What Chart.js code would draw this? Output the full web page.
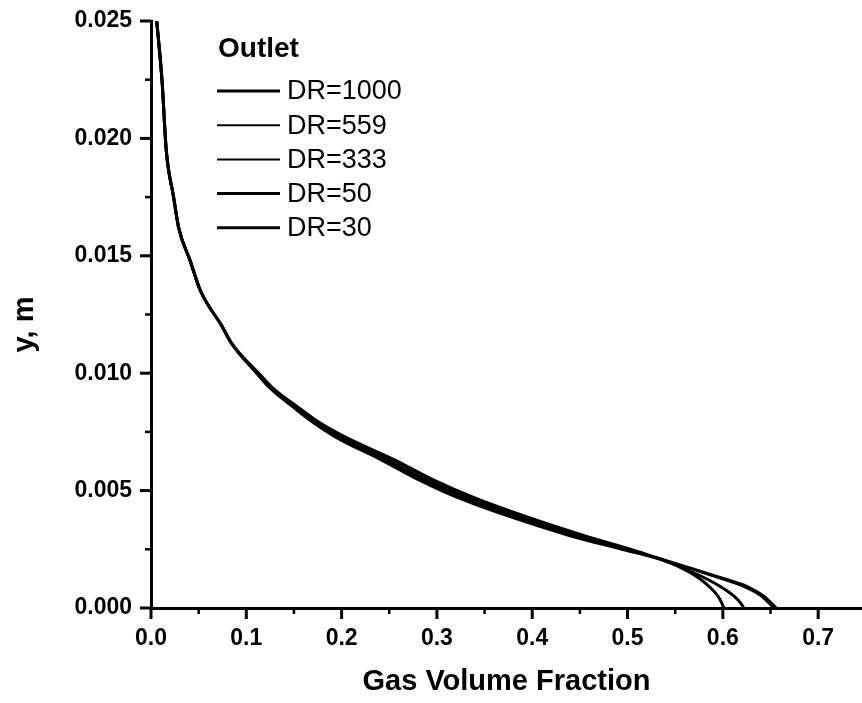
<!DOCTYPE html>
<html>
<head>
<meta charset="utf-8">
<title>Gas Volume Fraction - Outlet</title>
<script src="https://cdn.jsdelivr.net/npm/chart.js@4.4.1/dist/chart.umd.min.js"></script>
<style>
  html, body { margin: 0; padding: 0; background: #fff; }
  canvas { display: block; }
</style>
</head>
<body>
<canvas id="chart" width="862" height="703"></canvas>
<script>
// heights (y, m) shared by every curve
const heights = [0.025, 0.0225, 0.0195, 0.0175, 0.0162, 0.0148, 0.0135, 0.012, 0.0113, 0.010,
  0.0094, 0.0085, 0.008, 0.0073, 0.0063, 0.0055, 0.0047, 0.0039, 0.0031, 0.0025,
  0.0021, 0.0017, 0.0013, 0.0009, 0.0005, 0.0002, 0.0];

// gas volume fraction at each height, one list per density ratio
const dr1000 = [0.006, 0.0115, 0.016, 0.0237, 0.029, 0.041, 0.052, 0.0745, 0.084, 0.113,
  0.127, 0.156, 0.173, 0.203, 0.256, 0.294, 0.339, 0.393, 0.453, 0.503,
  0.534, 0.566, 0.597, 0.626, 0.643, 0.651, 0.656];
const dr559 = [0.006, 0.0115, 0.016, 0.0237, 0.029, 0.041, 0.052, 0.0745, 0.084, 0.112,
  0.126, 0.155, 0.172, 0.201, 0.253, 0.291, 0.336, 0.390, 0.451, 0.502,
  0.534, 0.565, 0.596, 0.625, 0.642, 0.650, 0.655];
const dr333 = [0.006, 0.0115, 0.016, 0.0237, 0.029, 0.041, 0.052, 0.0745, 0.084, 0.112,
  0.126, 0.154, 0.170, 0.198, 0.249, 0.287, 0.332, 0.386, 0.448, 0.500,
  0.534, 0.564, 0.594, 0.622, 0.640, 0.648, 0.653];
const dr50 = [0.006, 0.0115, 0.016, 0.0237, 0.029, 0.041, 0.052, 0.0745, 0.084, 0.111,
  0.125, 0.153, 0.168, 0.195, 0.246, 0.284, 0.328, 0.383, 0.445, 0.498,
  0.533, 0.558, 0.580, 0.598, 0.612, 0.619, 0.622];
const dr30 = [0.006, 0.0115, 0.016, 0.0237, 0.029, 0.041, 0.052, 0.0745, 0.084, 0.111,
  0.124, 0.151, 0.167, 0.193, 0.242, 0.279, 0.322, 0.376, 0.438, 0.494,
  0.532, 0.557, 0.574, 0.586, 0.595, 0.599, 0.601];

const seriesLabels = ['DR=1000', 'DR=559', 'DR=333', 'DR=50', 'DR=30'];
const seriesValues = [dr1000, dr559, dr333, dr50, dr30];
const seriesWidths = [3, 2, 2, 3, 3];

const xTicks = [0, 0.1, 0.2, 0.3, 0.4, 0.5, 0.6, 0.7];
const xMinorTicks = [0.05, 0.15, 0.25, 0.35, 0.45, 0.55, 0.65];
const yTicks = [0, 0.005, 0.010, 0.015, 0.020, 0.025];
const yMinorTicks = [0.0025, 0.0075, 0.0125, 0.0175, 0.0225];

const FONT = "'Liberation Sans', Arial, Helvetica, sans-serif";

const datasets = seriesLabels.map((label, i) => ({
  label: label,
  data: seriesValues[i].map((x, j) => ({ x: x, y: heights[j] })),
  borderColor: '#000',
  backgroundColor: '#000',
  borderWidth: seriesWidths[i],
  showLine: true,
  pointRadius: 0,
  cubicInterpolationMode: 'monotone',
  fill: false
}));

// tick marks (major + minor), drawn outward from the axes
const tickMarks = {
  id: 'tickMarks',
  afterDraw(chart) {
    const ctx = chart.ctx;
    const xs = chart.scales.x, ys = chart.scales.y;
    const area = chart.chartArea;
    ctx.save();
    ctx.strokeStyle = '#000';
    const mark = (vals, len, w, horiz) => {
      ctx.lineWidth = w;
      vals.forEach(v => {
        ctx.beginPath();
        if (horiz) {
          const px = xs.getPixelForValue(v);
          ctx.moveTo(px, area.bottom);
          ctx.lineTo(px, area.bottom + len);
        } else {
          const py = ys.getPixelForValue(v);
          ctx.moveTo(area.left, py);
          ctx.lineTo(area.left - len, py);
        }
        ctx.stroke();
      });
    };
    mark(xTicks, 11, 3, true);
    mark(xMinorTicks, 6, 2.5, true);
    mark(yTicks, 11, 3, false);
    mark(yMinorTicks, 6, 2.5, false);
    ctx.restore();
  }
};

// legend block inside the plot, with its "Outlet" heading, plus the y title
const outletLegend = {
  id: 'outletLegend',
  afterDraw(chart) {
    const ctx = chart.ctx;
    const area = chart.chartArea;
    const left = area.left + 66;
    ctx.save();
    ctx.fillStyle = '#000';
    ctx.textAlign = 'left';
    ctx.textBaseline = 'alphabetic';
    ctx.font = 'bold 28px ' + FONT;
    ctx.fillText('Outlet', left + 1, area.top + 36);
    ctx.font = '27px ' + FONT;
    ctx.textBaseline = 'middle';
    chart.data.datasets.forEach((ds, i) => {
      const y = area.top + 70 + i * 34.2;
      ctx.strokeStyle = ds.borderColor;
      ctx.lineWidth = ds.borderWidth;
      ctx.beginPath();
      ctx.moveTo(left, y);
      ctx.lineTo(left + 63, y);
      ctx.stroke();
      ctx.fillText(ds.label, left + 70, y + 1);
    });

    // y axis title, a little below the plot's middle as in the original
    ctx.translate(area.left - 126, (area.top + area.bottom) / 2 + 10);
    ctx.rotate(-Math.PI / 2);
    ctx.textAlign = 'center';
    ctx.textBaseline = 'middle';
    ctx.font = 'bold 29px ' + FONT;
    ctx.fillText('y, m', 0, 0);
    ctx.restore();
  }
};

const ctx = document.getElementById('chart').getContext('2d');

const chart = new Chart(ctx, {
  type: 'scatter',
  data: { datasets: datasets },
  options: {
    responsive: false,
    animation: false,
    layout: { padding: { top: 21, right: 0, bottom: 0, left: 0 } },
    plugins: {
      legend: { display: false },
      tooltip: { enabled: false }
    },
    scales: {
      x: {
        type: 'linear',
        min: 0,
        max: 0.746,
        afterFit(scale) { scale.height = 95; },
        afterBuildTicks(scale) { scale.ticks = xTicks.map(v => ({ value: v })); },
        grid: { display: false, drawTicks: true, tickLength: 14 },
        border: { display: true, color: '#000', width: 3 },
        ticks: {
          color: '#000',
          padding: 3,
          maxRotation: 0,
          font: { family: FONT, size: 23, weight: 'bold' },
          callback: v => v.toFixed(1)
        },
        title: {
          display: true,
          text: 'Gas Volume Fraction',
          color: '#000',
          padding: { top: 4, bottom: 4 },
          font: { family: FONT, size: 29, weight: 'bold' }
        }
      },
      y: {
        type: 'linear',
        min: 0,
        max: 0.025,
        afterFit(scale) { scale.width = 151; },
        afterBuildTicks(scale) { scale.ticks = yTicks.map(v => ({ value: v })); },
        grid: { display: false, drawTicks: true, tickLength: 16 },
        border: { display: true, color: '#000', width: 3 },
        ticks: {
          color: '#000',
          padding: 3,
          font: { family: FONT, size: 23, weight: 'bold' },
          callback: v => v.toFixed(3)
        },
        title: { display: false }
      }
    }
  },
  plugins: [tickMarks, outletLegend]
});
</script>
</body>
</html>
